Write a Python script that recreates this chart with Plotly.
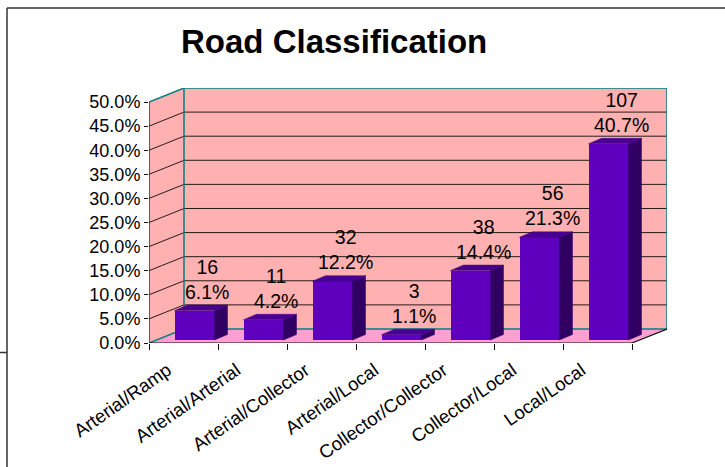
import plotly.graph_objects as go

# ---- data ----
categories = ["Arterial/Ramp", "Arterial/Arterial", "Arterial/Collector", "Arterial/Local",
              "Collector/Collector", "Collector/Local", "Local/Local"]
counts = [16, 11, 32, 3, 38, 56, 107]
percents = [6.1, 4.2, 12.2, 1.1, 14.4, 21.3, 40.7]
y_ticks = [0, 5, 10, 15, 20, 25, 30, 35, 40, 45, 50]

# ---- geometry of the pseudo-3D box (axis units) ----
W, H = 725, 467
PLOT_L, PLOT_R, PLOT_T, PLOT_B = 149, 667, 88, 343
N = len(categories)
Y_MAX = 50.0
PX_PER_X = 69.0                       # pixels per category slot
DX = 35.0 / PX_PER_X                  # depth offset along x
PX_PER_Y = 240.6 / Y_MAX              # pixels per percent point
DY = 14.0 / PX_PER_Y                  # depth offset along y

BAR_W = 40.0 / PX_PER_X
BAR_SX = 11.0 / PX_PER_X              # bar front face shift into depth
BAR_SY = 3.0 / PX_PER_Y
BAR_DX = 13.0 / PX_PER_X              # bar depth
BAR_DY = 5.5 / PX_PER_Y
LABEL_SX = 23.5 / PX_PER_X
CAT_LABEL_SX = -16.0 / PX_PER_X       # category labels sit left of the slot centre

WALL = "#FFB0B0"
FLOOR = "#FF9FD2"
TEAL = "#008080"
GRID = "#2a1a1a"
FRONT = "#5F00BF"
SIDE = "#300063"
TOP = "#47008F"
FONT = "Liberation Sans, Arial, sans-serif"

fig = go.Figure()
shapes = []


def poly(pts):
    return "M " + " L ".join(f"{x},{y}" for x, y in pts) + " Z"


# side wall, back wall, floor
shapes.append(dict(type="path", xref="x", yref="y", layer="below", line=dict(width=0),
                   fillcolor=WALL, path=poly([(0, 0), (DX, DY), (DX, Y_MAX + DY), (0, Y_MAX)])))
shapes.append(dict(type="rect", xref="x", yref="y", layer="below", line=dict(width=0),
                   fillcolor=WALL, x0=DX, y0=DY, x1=N + DX, y1=Y_MAX + DY))
shapes.append(dict(type="path", xref="x", yref="y", layer="below", line=dict(width=0),
                   fillcolor=FLOOR, path=poly([(0, 0), (N, 0), (N + DX, DY), (DX, DY)])))

# gridlines on walls
for v in y_ticks[1:-1]:
    shapes.append(dict(type="line", xref="x", yref="y", layer="below",
                       line=dict(color=GRID, width=1), x0=DX, y0=v + DY, x1=N + DX, y1=v + DY))
    shapes.append(dict(type="line", xref="x", yref="y", layer="below",
                       line=dict(color=GRID, width=1), x0=0, y0=v, x1=DX, y1=v + DY))

# teal wall edges
for (x0, y0, x1, y1) in [(0, Y_MAX, DX, Y_MAX + DY), (DX, Y_MAX + DY, N + DX, Y_MAX + DY),
                         (N + DX, Y_MAX + DY, N + DX, DY), (DX, DY, N + DX, DY),
                         (DX, DY, DX, Y_MAX + DY), (0, 0, DX, DY)]:
    shapes.append(dict(type="line", xref="x", yref="y", layer="below",
                       line=dict(color=TEAL, width=1.5), x0=x0, y0=y0, x1=x1, y1=y1))

# front axis lines and floor right edge
for (x0, y0, x1, y1) in [(0, 0, 0, Y_MAX), (0, 0, N, 0), (N, 0, N + DX, DY)]:
    shapes.append(dict(type="line", xref="x", yref="y", layer="below",
                       line=dict(color="#111111", width=1.2), x0=x0, y0=y0, x1=x1, y1=y1))

# bars: front faces from the library's bar trace, side and top faces as polygons
centers = [i + 0.5 for i in range(N)]
fig.add_trace(go.Bar(x=[c + BAR_SX for c in centers], y=percents, base=BAR_SY,
                     width=BAR_W, marker=dict(color=FRONT, line=dict(width=0)),
                     hoverinfo="skip", showlegend=False))
for c, p in zip(centers, percents):
    xl = c + BAR_SX - BAR_W / 2
    xr = c + BAR_SX + BAR_W / 2
    top = BAR_SY + p
    side = [(xr, BAR_SY), (xr + BAR_DX, BAR_SY + BAR_DY), (xr + BAR_DX, top + BAR_DY), (xr, top), (xr, BAR_SY)]
    lid = [(xl, top), (xr, top), (xr + BAR_DX, top + BAR_DY), (xl + BAR_DX, top + BAR_DY), (xl, top)]
    for pts, col in [(side, SIDE), (lid, TOP)]:
        fig.add_trace(go.Scatter(x=[q[0] for q in pts], y=[q[1] for q in pts], mode="lines",
                                 fill="toself", fillcolor=col, line=dict(width=0.5, color=col),
                                 hoverinfo="skip", showlegend=False))

# data labels: count over percentage
for c, n, p in zip(centers, counts, percents):
    fig.add_annotation(x=c + LABEL_SX, y=BAR_SY + p, text=f"{n}<br>{p:.1f}%", showarrow=False,
                       xanchor="center", yanchor="bottom", yshift=6,
                       font=dict(family=FONT, size=19.5, color="#000000"))

# outer frame (paper coordinates converted from pixels)
def px_x(px):
    return (px - PLOT_L) / (PLOT_R - PLOT_L)


def px_y(py):
    return (PLOT_B - py) / (PLOT_B - PLOT_T)


for (x0, y0, x1, y1, w) in [(7, 8, 725, 8, 1.5), (7, 8, 7, 467, 1.5), (0, 352.5, 7, 352.5, 1.5)]:
    shapes.append(dict(type="line", xref="paper", yref="paper", layer="above",
                       line=dict(color="#333333", width=w),
                       x0=px_x(x0), y0=px_y(y0), x1=px_x(x1), y1=px_y(y1)))

fig.add_annotation(xref="paper", yref="paper", x=px_x(333.5), y=px_y(42), text="<b>Road Classification</b>",
                   showarrow=False, xanchor="center", yanchor="middle",
                   font=dict(family=FONT, size=33, color="#000000"))

fig.update_layout(
    width=W, height=H,
    margin=dict(l=PLOT_L, r=W - PLOT_R, t=PLOT_T, b=H - PLOT_B, pad=0, autoexpand=False),
    paper_bgcolor="white", plot_bgcolor="white",
    shapes=shapes, showlegend=False, bargap=0,
    xaxis=dict(range=[0, N + DX], showgrid=False, zeroline=False, showline=False, automargin=False,
               tickmode="array", tickvals=[c + CAT_LABEL_SX for c in centers], ticktext=categories,
               ticks="", ticklabelstandoff=12,
               tickangle=-35, tickfont=dict(family=FONT, size=18.6, color="#000000"),
               minor=dict(tickmode="array", tickvals=list(range(N + 1)), ticks="outside",
                          ticklen=6, tickcolor="#111111", tickwidth=1.2, showgrid=False)),
    yaxis=dict(range=[0, Y_MAX + DY], showgrid=False, zeroline=False, showline=False, automargin=False,
               tickmode="array", tickvals=y_ticks, ticktext=[f"{v:.1f}%" for v in y_ticks],
               ticks="outside", ticklen=4, tickcolor="#111111", tickwidth=1.2,
               tickfont=dict(family=FONT, size=18, color="#000000")),
)

fig.write_html("out.html")
